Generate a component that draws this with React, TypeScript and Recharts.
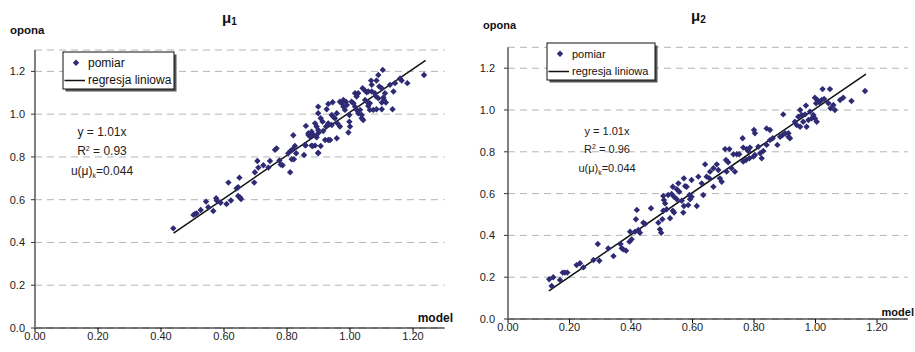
import React from "react";
import {
  ScatterChart,
  Scatter,
  XAxis,
  YAxis,
  CartesianGrid,
  ReferenceLine,
} from "recharts";

// ---------- data ----------
const xTicks = [0, 0.2, 0.4, 0.6, 0.8, 1.0, 1.2];
const yTicks = [0, 0.2, 0.4, 0.6, 0.8, 1.0, 1.2];

// mu1: [model, opona]
const mu1Points: [number, number][] = [
  [0.439, 0.466], [0.503, 0.529], [0.508, 0.533], [0.513, 0.536], [0.526, 0.552],
  [0.543, 0.591], [0.55, 0.565], [0.566, 0.547], [0.575, 0.607], [0.577, 0.596],
  [0.589, 0.586], [0.608, 0.58], [0.622, 0.596], [0.614, 0.68], [0.64, 0.653],
  [0.645, 0.658], [0.649, 0.703], [0.645, 0.617], [0.651, 0.61], [0.654, 0.603],
  [0.696, 0.68], [0.698, 0.728], [0.706, 0.781], [0.709, 0.75], [0.725, 0.761],
  [0.741, 0.75], [0.746, 0.781], [0.762, 0.833], [0.767, 0.84], [0.776, 0.783],
  [0.78, 0.764], [0.786, 0.761], [0.81, 0.728], [0.804, 0.817], [0.812, 0.829],
  [0.818, 0.836], [0.815, 0.789], [0.822, 0.789], [0.82, 0.901], [0.825, 0.851],
  [0.829, 0.817], [0.854, 0.809], [0.859, 0.854], [0.868, 0.903], [0.873, 0.895],
  [0.884, 0.903], [0.894, 0.892], [0.899, 0.911], [0.878, 0.853], [0.889, 0.853],
  [0.899, 0.817], [0.86, 0.945], [0.857, 0.856], [0.868, 0.911], [0.873, 0.898],
  [0.878, 0.918], [0.881, 0.851], [0.889, 0.957], [0.894, 0.942], [0.899, 0.926],
  [0.899, 1.035], [0.899, 1.004], [0.899, 0.82], [0.907, 0.981], [0.913, 0.965],
  [0.907, 0.851], [0.915, 0.921], [0.921, 0.879], [0.931, 0.879], [0.937, 0.879],
  [0.924, 0.942], [0.931, 0.957], [0.942, 0.949], [0.926, 1.023], [0.931, 1.048],
  [0.945, 1.056], [0.942, 0.996], [0.947, 0.988], [0.958, 1.004], [0.952, 0.981],
  [0.958, 0.887], [0.96, 0.957], [0.968, 0.942], [0.968, 1.058], [0.974, 1.051],
  [0.979, 1.066], [0.987, 1.058], [0.979, 1.035], [0.99, 1.043], [0.984, 1.02],
  [0.995, 0.914], [0.998, 0.996], [0.998, 0.965], [1.0, 0.942], [1.005, 1.058],
  [1.011, 1.051], [1.016, 1.035], [1.021, 1.082], [1.016, 1.098], [1.026, 1.098],
  [1.021, 1.02], [1.032, 1.02], [1.026, 1.004], [1.037, 0.996], [1.042, 0.973],
  [1.037, 0.981], [1.04, 1.121], [1.048, 1.11], [1.053, 1.102], [1.048, 1.066],
  [1.058, 1.051], [1.058, 1.106], [1.069, 1.106], [1.079, 1.098], [1.063, 1.02],
  [1.074, 1.02], [1.084, 1.023], [1.101, 1.023], [1.063, 1.051], [1.058, 1.038],
  [1.067, 1.157], [1.069, 1.137], [1.084, 1.157], [1.09, 1.183], [1.104, 1.207],
  [1.093, 1.129], [1.101, 1.121], [1.083, 1.082], [1.09, 1.074], [1.106, 1.078],
  [1.111, 1.098], [1.101, 1.054], [1.108, 1.066], [1.114, 1.054], [1.127, 1.137],
  [1.138, 1.106], [1.143, 1.145], [1.135, 1.023], [1.159, 1.167], [1.164, 1.157],
  [1.182, 1.145], [1.235, 1.183],
];

// mu2: [model, opona]
const mu2Points: [number, number][] = [
  [0.134, 0.19], [0.147, 0.2], [0.142, 0.158], [0.169, 0.187], [0.178, 0.222],
  [0.185, 0.222], [0.193, 0.222], [0.223, 0.258], [0.234, 0.267], [0.245, 0.247],
  [0.278, 0.282], [0.297, 0.279], [0.292, 0.359], [0.326, 0.338], [0.343, 0.301],
  [0.366, 0.359], [0.37, 0.338], [0.375, 0.333], [0.384, 0.327], [0.395, 0.37],
  [0.402, 0.381], [0.397, 0.418], [0.416, 0.477], [0.419, 0.522], [0.413, 0.418],
  [0.424, 0.426], [0.429, 0.413], [0.44, 0.461], [0.446, 0.455], [0.465, 0.53],
  [0.489, 0.461], [0.494, 0.429], [0.498, 0.413], [0.502, 0.477], [0.505, 0.589],
  [0.507, 0.569], [0.511, 0.553], [0.505, 0.518], [0.516, 0.525], [0.521, 0.593],
  [0.532, 0.598], [0.54, 0.585], [0.527, 0.482], [0.536, 0.518], [0.54, 0.509],
  [0.536, 0.633], [0.554, 0.649], [0.549, 0.621], [0.557, 0.609], [0.549, 0.573],
  [0.565, 0.566], [0.57, 0.509], [0.572, 0.541], [0.586, 0.545], [0.592, 0.573],
  [0.572, 0.673], [0.576, 0.636], [0.581, 0.633], [0.597, 0.665], [0.619, 0.681],
  [0.63, 0.649], [0.635, 0.593], [0.614, 0.541], [0.59, 0.593], [0.597, 0.585],
  [0.646, 0.681], [0.657, 0.705], [0.668, 0.633], [0.641, 0.74], [0.655, 0.673],
  [0.668, 0.721], [0.679, 0.74], [0.684, 0.713], [0.695, 0.657], [0.689, 0.673],
  [0.706, 0.813], [0.72, 0.813], [0.709, 0.761], [0.716, 0.75], [0.711, 0.705],
  [0.727, 0.721], [0.738, 0.705], [0.733, 0.788], [0.744, 0.788], [0.752, 0.788],
  [0.763, 0.865], [0.765, 0.82], [0.776, 0.813], [0.787, 0.82], [0.781, 0.804],
  [0.765, 0.753], [0.774, 0.761], [0.785, 0.769], [0.798, 0.777], [0.8, 0.904],
  [0.803, 0.889], [0.803, 0.785], [0.82, 0.793], [0.825, 0.769], [0.814, 0.824],
  [0.83, 0.804], [0.841, 0.912], [0.852, 0.904], [0.841, 0.833], [0.852, 0.856],
  [0.861, 0.865], [0.876, 0.833], [0.885, 0.872], [0.893, 0.88], [0.901, 0.889],
  [0.912, 0.889], [0.895, 0.979], [0.912, 0.872], [0.917, 0.865], [0.933, 0.944],
  [0.939, 0.928], [0.95, 0.92], [0.944, 0.968], [0.95, 1.0], [0.955, 0.976],
  [0.966, 0.979], [0.969, 1.021], [0.96, 0.944], [0.971, 0.92], [0.977, 0.952],
  [0.988, 0.96], [0.982, 0.992], [0.993, 0.976], [0.998, 0.96], [1.004, 0.944],
  [0.998, 1.059], [1.006, 1.048], [1.013, 1.037], [1.002, 1.032], [1.023, 1.1],
  [1.047, 1.1], [1.02, 1.048], [1.028, 1.053], [1.042, 1.032], [1.049, 1.008],
  [1.058, 1.024], [1.063, 1.0], [1.08, 1.048], [1.09, 1.059], [1.117, 1.043],
  [1.161, 1.091],
];

// regression line end points (y = 1.01x)
const mu1Regression = [{ x: 0.44, y: 0.444 }, { x: 1.24, y: 1.252 }];
const mu2Regression = [{ x: 0.133, y: 0.135 }, { x: 1.164, y: 1.172 }];

const legendLabels = ["pomiar", "regresja liniowa"];
const mu1Stats = ["y = 1.01x", "0.93", "0.044"];
const mu2Stats = ["y = 1.01x", "0.96", "0.044"];

// ---------- styles ----------
const FONT = "'Liberation Sans', Arial, sans-serif";
const MARK = "#2e2b74";

const Diamond = (props: any) => {
  const { cx, cy } = props;
  if (cx == null || cy == null) return <g />;
  const r = 3.2;
  return (
    <polygon
      points={`${cx},${cy - r} ${cx + r},${cy} ${cx},${cy + r} ${cx - r},${cy}`}
      fill={MARK}
    />
  );
};

const toObj = (pts: [number, number][]) => pts.map(([x, y]) => ({ x, y }));

type PanelProps = {
  left: number;
  width: number;
  yAxisWidth: number;
  top: number;
  right: number;
  xAxisHeight: number;
  yTickMargin: number;
  points: [number, number][];
  regression: { x: number; y: number }[];
};

const Panel = (p: PanelProps) => (
  <div style={{ position: "absolute", left: p.left, top: 0 }}>
    <ScatterChart
      width={p.width}
      height={352}
      margin={{ top: p.top, right: p.right, bottom: 0, left: 0 }}
    >
      <CartesianGrid
        horizontal={true}
        vertical={false}
        stroke="#b4b4b4"
        strokeDasharray="7 5"
        strokeWidth={1}
      />
      <XAxis
        type="number"
        dataKey="x"
        domain={[0, 1.3]}
        ticks={xTicks}
        height={p.xAxisHeight}
        tickSize={4}
        tickMargin={0}
        tickFormatter={(v: number) => v.toFixed(2)}
        tick={{ fontSize: 11, fill: "#222", fontFamily: FONT }}
        axisLine={{ stroke: "#000", strokeWidth: 1 }}
        tickLine={{ stroke: "#000" }}
        interval={0}
        allowDataOverflow
      />
      <YAxis
        type="number"
        dataKey="y"
        domain={[0, 1.3]}
        ticks={yTicks}
        width={p.yAxisWidth}
        tickSize={4}
        tickMargin={p.yTickMargin}
        tickFormatter={(v: number) => v.toFixed(1)}
        tick={{ fontSize: 11, fill: "#222", fontFamily: FONT }}
        axisLine={{ stroke: "#808080", strokeWidth: 2 }}
        tickLine={{ stroke: "#333" }}
        interval={0}
        allowDataOverflow
      />
      <Scatter
        name={legendLabels[0]}
        data={toObj(p.points)}
        shape={Diamond}
        isAnimationActive={false}
      />
      <ReferenceLine
        segment={p.regression}
        stroke="#111"
        strokeWidth={1.5}
        ifOverflow="visible"
      />
    </ScatterChart>
  </div>
);

const Legend = ({ x, y, w, h, fs }: { x: number; y: number; w: number; h: number; fs: number }) => (
  <g fontFamily={FONT} fontSize={fs} fill="#111">
    <rect x={x + 2.5} y={y + 2.5} width={w} height={h} fill="#555" />
    <rect x={x} y={y} width={w} height={h} fill="#fff" stroke="#111" strokeWidth={1} />
    <polygon
      points={`${x + 13},${y + 7.5} ${x + 16.2},${y + 10.7} ${x + 13},${y + 13.9} ${x + 9.8},${y + 10.7}`}
      fill={MARK}
    />
    <text x={x + 25} y={y + 14.5}>{legendLabels[0]}</text>
    <line x1={x + 1.5} x2={x + 22} y1={y + 28.5} y2={y + 28.5} stroke="#111" strokeWidth={1.5} />
    <text x={x + 25} y={y + 31.5}>{legendLabels[1]}</text>
  </g>
);

const Stats = ({ cx, y, stats, fs }: { cx: number; y: number[]; stats: string[]; fs: number }) => (
  <g fontFamily={FONT} fontSize={fs} fill="#222" textAnchor="middle">
    <text x={cx} y={y[0]}>{stats[0]}</text>
    <text x={cx} y={y[1]}>
      R<tspan dy={-4} fontSize={7}>2</tspan>
      <tspan dy={4}>{" = " + stats[1]}</tspan>
    </text>
    <text x={cx} y={y[2]}>
      u(μ)<tspan dy={3} fontSize={7}>k</tspan>
      <tspan dy={-3}>{"=" + stats[2]}</tspan>
    </text>
  </g>
);

export default function App() {
  return (
    <div
      style={{
        position: "absolute",
        left: 0,
        top: 0,
        width: 915,
        height: 352,
        background: "#fff",
        overflow: "hidden",
      }}
    >
      <Panel
        left={0}
        width={460}
        yAxisWidth={35}
        top={50}
        right={15.5}
        xAxisHeight={24}
        yTickMargin={6}
        points={mu1Points}
        regression={mu1Regression}
      />
      <Panel
        left={460}
        width={455}
        yAxisWidth={48}
        top={47.3}
        right={7.25}
        xAxisHeight={33}
        yTickMargin={9}
        points={mu2Points}
        regression={mu2Regression}
      />
      <svg
        width={915}
        height={352}
        style={{ position: "absolute", left: 0, top: 0, pointerEvents: "none" }}
      >
        {/* titles */}
        <text x={222} y={23} fontFamily={FONT} fontWeight="bold" fontSize={15} fill="#111">
          μ<tspan dy={2} fontSize={10}>1</tspan>
        </text>
        <text x={691} y={21} fontFamily={FONT} fontWeight="bold" fontSize={15} fill="#111">
          μ<tspan dy={2} fontSize={10}>2</tspan>
        </text>
        {/* axis names */}
        <text x={10} y={34} fontFamily={FONT} fontWeight="bold" fontSize={11.5} fill="#111">opona</text>
        <text x={483} y={29} fontFamily={FONT} fontWeight="bold" fontSize={11} fill="#111">opona</text>
        <text x={453} y={322} textAnchor="end" fontFamily={FONT} fontWeight="bold" fontSize={12} fill="#111">model</text>
        <text x={914} y={316} textAnchor="end" fontFamily={FONT} fontWeight="bold" fontSize={11} fill="#111">model</text>
        {/* legends */}
        <Legend x={63} y={52} w={111} h={37} fs={12} />
        <Legend x={547} y={43} w={108} h={37} fs={11} />
        {/* statistics */}
        <Stats cx={102} y={[136, 155, 175]} stats={mu1Stats} fs={12} />
        <Stats cx={607} y={[135, 153, 172]} stats={mu2Stats} fs={11} />
      </svg>
    </div>
  );
}
